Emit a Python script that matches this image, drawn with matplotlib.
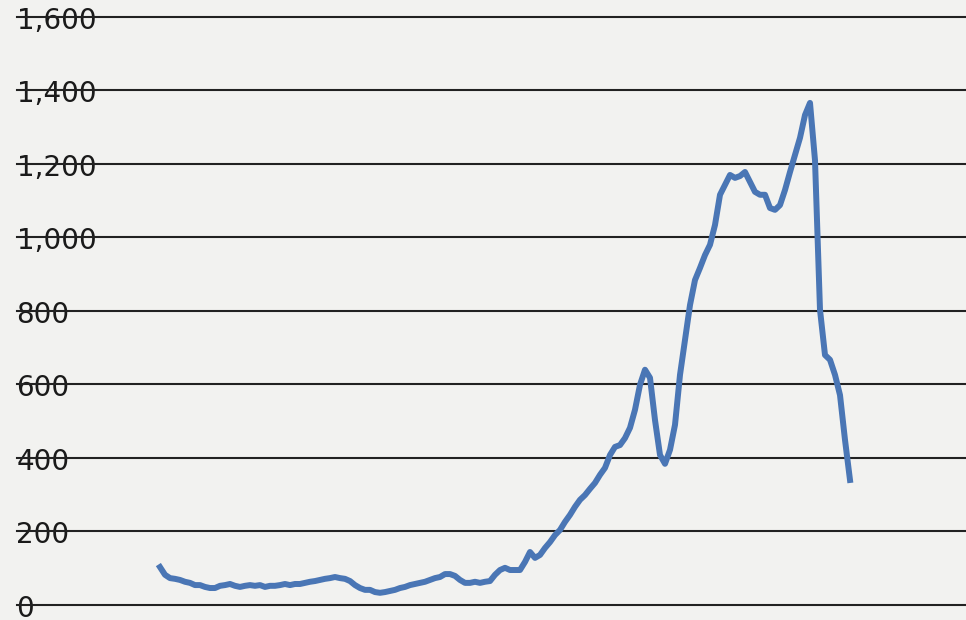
import numpy as np
import matplotlib.pyplot as plt

# weekly series
values = [103, 82, 73, 71, 68, 63, 60, 54, 54, 49, 46, 46, 52, 54, 57, 52, 49, 52, 54, 52,
          54, 49, 52, 52, 54, 57, 54, 57, 57, 60, 63, 65, 68, 71, 73, 76, 73, 71, 65, 54,
          46, 41, 41, 35, 33, 35, 38, 41, 46, 49, 54, 57, 60, 63, 68, 73, 76, 84, 84, 79,
          68, 60, 60, 63, 60, 63, 65, 82, 95, 101, 95, 95, 95, 117, 144, 128, 136, 155, 171, 190,
          204, 226, 245, 267, 286, 299, 316, 332, 354, 373, 408, 430, 435, 454, 482, 531, 599, 640, 618, 503,
          408, 384, 422, 490, 626, 721, 816, 884, 917, 952, 980, 1034, 1116, 1143, 1170, 1162, 1167, 1178, 1151, 1124,
          1116, 1116, 1080, 1075, 1088, 1129, 1178, 1225, 1271, 1333, 1366, 1210, 803, 680, 667, 626, 571, 449, 340]

yticks = [0, 200, 400, 600, 800, 1000, 1200, 1400, 1600]
ytick_labels = ["0", "200", "400", "600", "800", "1,000", "1,200", "1,400", "1,600"]

fig = plt.figure(figsize=(9.66, 6.2), dpi=100)
fig.patch.set_facecolor('#f2f2f0')
ax = fig.add_axes([0, 0, 1, 1])
ax.set_facecolor('#f2f2f0')

x = np.arange(len(values))
ax.set_xlim(-32, 161.2)
ax.set_ylim(-41, 1646)

for yv, lab in zip(yticks, ytick_labels):
    ax.axhline(yv, xmin=0.018, xmax=1, color='#222222', lw=1.5, zorder=2)
    ax.text(-28.7, yv - 10, lab, fontsize=20, color='#1a1a1a', va='center', ha='left', zorder=1)

ax.plot(x, values, color='#4a76b5', lw=4.3, solid_joinstyle='round', zorder=3)

for s in ax.spines.values():
    s.set_visible(False)
ax.set_xticks([])
ax.set_yticks([])

fig.savefig('out.png', dpi=100, facecolor=fig.get_facecolor())
